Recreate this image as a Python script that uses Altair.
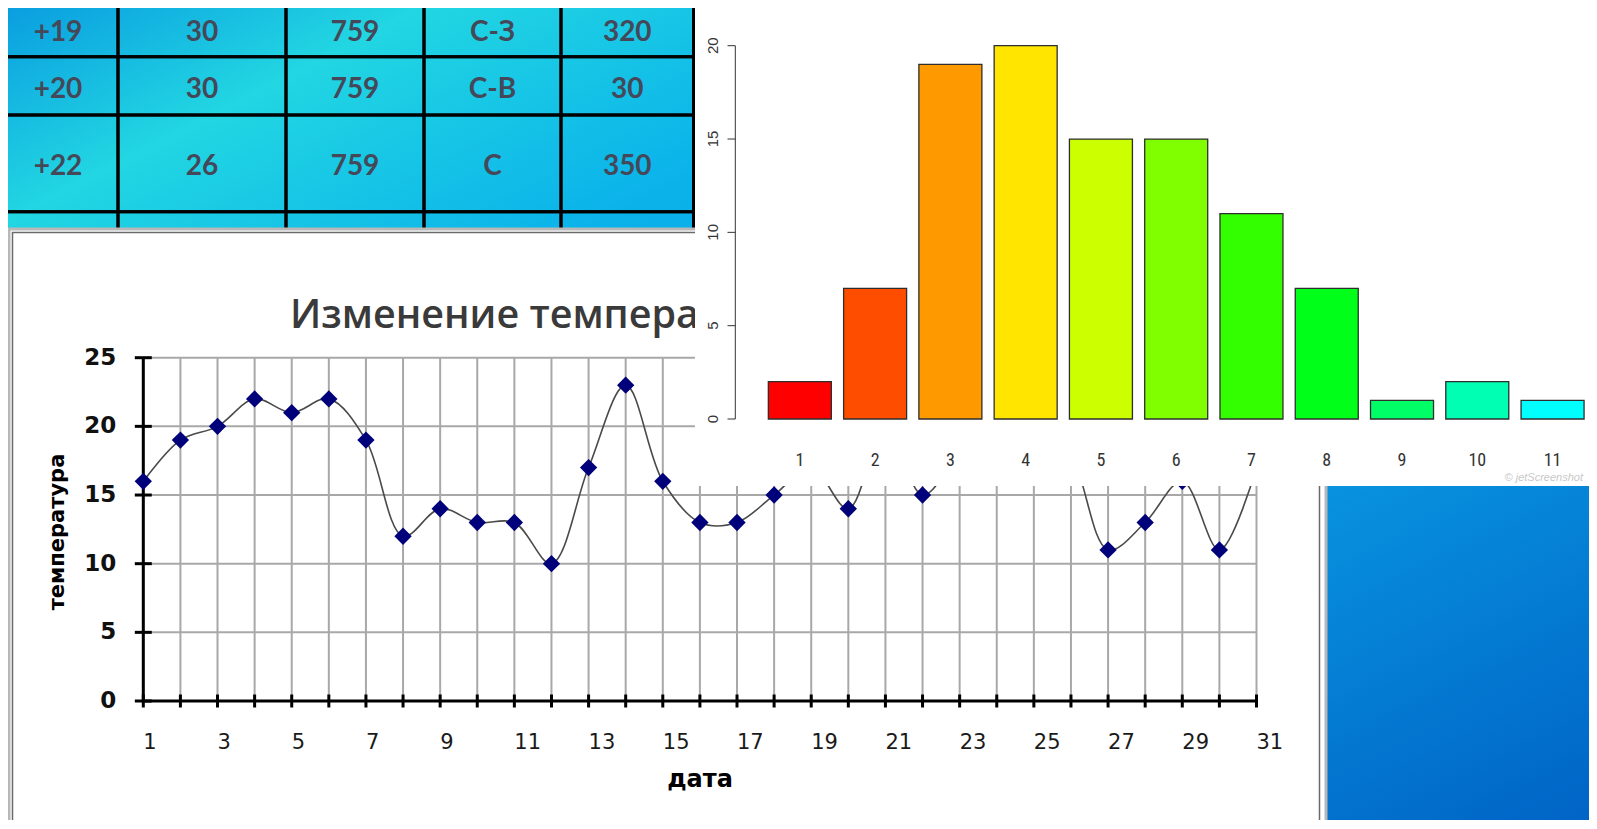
import altair as alt
import pandas as pd

# ------------------------------------------------------------------ data
TABLE_ROWS = [
    ["+19", "30", "759", "С-З", "320"],
    ["+20", "30", "759", "С-В", "30"],
    ["+22", "26", "759", "С", "350"],
]
N_TABLE_ROWS_DRAWN = 4          # 4th row is hidden behind the line chart
N_TABLE_COLS = 5

DAYS = list(range(1, 32))
TEMPS = [16, 19, 20, 22, 21, 22, 19, 12, 14, 13, 13, 10, 17, 23, 16, 13, 13, 15,
         17, 14, 20, 15, 18, 20, 21, 18, 11, 13, 16, 11, 17]
TEMP_TICKS = [0, 5, 10, 15, 20, 25]
DAY_LABELS = list(range(1, 32, 2))
LINE_TITLE = "Изменение температуры"
LINE_XTITLE = "дата"
LINE_YTITLE = "температура"

BAR_CATS = [str(i) for i in range(1, 12)]
BAR_VALUES = [2, 7, 19, 20, 15, 15, 11, 7, 1, 2, 1]
BAR_COLORS = ["#FF0000", "#FF4D00", "#FF9900", "#FFE500", "#CCFF00", "#80FF00",
              "#33FF00", "#00FF19", "#00FF66", "#00FFB2", "#00FFFF"]
BAR_TICKS = [0, 5, 10, 15, 20]
WATERMARK = "© jetScreenshot"

# ------------------------------------------------------------------ layout (page pixels)
OX, OY = 8, 8            # page margin
W, H = 1581, 812


def px(v):
    return v - OX


def py(v):
    return v - OY


ONE = pd.DataFrame({"k": [0]})

# background (slide gradient)
bg = alt.Chart(ONE).mark_rect(
    fill=alt.LinearGradient(
        gradient="linear", x1=0, y1=0, x2=1, y2=1,
        stops=[alt.GradientStop(offset=0.0, color="#0a9ee0"),
               alt.GradientStop(offset=0.13, color="#22d6e2"),
               alt.GradientStop(offset=0.32, color="#0ab2ea"),
               alt.GradientStop(offset=0.70, color="#0894e0"),
               alt.GradientStop(offset=1.0, color="#0064c6")])
).encode(x=alt.value(0), x2=alt.value(W), y=alt.value(0), y2=alt.value(H))

# ------------------------------------------------------------------ table
TX = alt.Scale(domain=[0, 1, 2, 3, 4, 5],
               range=[px(-2), px(118), px(286), px(424), px(561), px(693.5)],
               nice=False, zero=False)
TY = alt.Scale(domain=[0, 1, 2, 3, 4],
               range=[py(1.7), py(56.7), py(115), py(211.7), py(330)],
               nice=False, zero=False)

cells = pd.DataFrame([{"c0": c, "c1": c + 1, "r0": r, "r1": r + 1}
                      for r in range(N_TABLE_ROWS_DRAWN) for c in range(N_TABLE_COLS)])
table_grid = alt.Chart(cells).mark_rect(fillOpacity=0, stroke="#000000", strokeWidth=3).encode(
    x=alt.X("c0:Q", scale=TX, axis=None), x2="c1:Q",
    y=alt.Y("r0:Q", scale=TY, axis=None), y2="r1:Q")

ttext = pd.DataFrame([{"xc": c + 0.5, "yc": r + 0.5, "t": TABLE_ROWS[r][c]}
                      for r in range(len(TABLE_ROWS)) for c in range(N_TABLE_COLS)])
table_text = alt.Chart(ttext).mark_text(
    font="Lato", fontWeight="bold", fontSize=28, color="#454858",
    align="center", baseline="middle", dy=4
).encode(x=alt.X("xc:Q", scale=TX, axis=None), y=alt.Y("yc:Q", scale=TY, axis=None), text="t:N")

# ------------------------------------------------------------------ line chart panel
panel_outer = alt.Chart(ONE).mark_rect(fill="#ffffff", stroke="#b8b8b8", strokeWidth=3).encode(
    x=alt.value(px(9)), x2=alt.value(px(1326)), y=alt.value(py(229)), y2=alt.value(py(828)))
panel_inner = alt.Chart(ONE).mark_rect(fillOpacity=0, stroke="#6a6a6a", strokeWidth=1.5).encode(
    x=alt.value(px(12.5)), x2=alt.value(px(1319.5)), y=alt.value(py(232.5)), y2=alt.value(py(823)))

LX = alt.Scale(domain=[1, 31], range=[px(143.3), px(1256.5)], nice=False, zero=False)
LY = alt.Scale(domain=[0, 25], range=[py(701.0), py(357.7)], nice=False, zero=False)

title_df = pd.DataFrame({"t": [LINE_TITLE]})
line_title = alt.Chart(title_df).mark_text(
    font="Open Sans", fontWeight=600, fontSize=39.5, color="#3a3a3a",
    align="left", baseline="alphabetic"
).encode(x=alt.value(px(290)), y=alt.value(py(328)), text="t:N")

vgrid_df = pd.DataFrame({"day": DAYS, "lo": [0] * len(DAYS), "hi": [25] * len(DAYS)})
vgrid = alt.Chart(vgrid_df).mark_rule(color="#a8a8a8", strokeWidth=2).encode(
    x=alt.X("day:Q", scale=LX, axis=None),
    y=alt.Y("lo:Q", scale=LY, axis=None), y2="hi:Q")

hgrid_df = pd.DataFrame({"temp": TEMP_TICKS[1:], "lo": [1] * 5, "hi": [31] * 5})
hgrid = alt.Chart(hgrid_df).mark_rule(color="#a8a8a8", strokeWidth=2).encode(
    y=alt.Y("temp:Q", scale=LY, axis=None),
    x=alt.X("lo:Q", scale=LX, axis=None), x2="hi:Q")

xaxis_df = pd.DataFrame({"lo": [1], "hi": [31], "temp": [0]})
xaxis = alt.Chart(xaxis_df).mark_rule(color="#000000", strokeWidth=3).encode(
    x=alt.X("lo:Q", scale=LX, axis=None), x2="hi:Q",
    y=alt.Y("temp:Q", scale=LY, axis=None))
yaxis_df = pd.DataFrame({"day": [1], "lo": [0], "hi": [25]})
yaxis = alt.Chart(yaxis_df).mark_rule(color="#000000", strokeWidth=3).encode(
    x=alt.X("day:Q", scale=LX, axis=None),
    y=alt.Y("lo:Q", scale=LY, axis=None), y2="hi:Q")

xticks_df = pd.DataFrame({"day": DAYS, "temp": [0] * len(DAYS)})
xticks = alt.Chart(xticks_df).mark_tick(orient="vertical", size=13, thickness=3, color="#000000", opacity=1).encode(
    x=alt.X("day:Q", scale=LX, axis=None), y=alt.Y("temp:Q", scale=LY, axis=None))
yticks_df = pd.DataFrame({"temp": TEMP_TICKS, "day": [1] * len(TEMP_TICKS)})
yticks = alt.Chart(yticks_df).mark_tick(orient="horizontal", size=17, thickness=3, color="#000000", opacity=1).encode(
    x=alt.X("day:Q", scale=LX, axis=None), y=alt.Y("temp:Q", scale=LY, axis=None))

ylabels = alt.Chart(yticks_df).mark_text(
    font="DejaVu Sans", fontWeight="bold", fontSize=23, color="#111111",
    align="right", baseline="middle", dx=-27
).encode(x=alt.X("day:Q", scale=LX, axis=None), y=alt.Y("temp:Q", scale=LY, axis=None),
         text="temp:Q")

xlab_df = pd.DataFrame({"day": DAY_LABELS, "temp": [0] * len(DAY_LABELS)})
xlabels = alt.Chart(xlab_df).mark_text(
    font="DejaVu Sans", fontSize=21, color="#1a1a1a",
    align="left", baseline="middle", dx=0, dy=42
).encode(x=alt.X("day:Q", scale=LX, axis=None), y=alt.Y("temp:Q", scale=LY, axis=None),
         text="day:Q")

xt_df = pd.DataFrame({"t": [LINE_XTITLE]})
xtitle = alt.Chart(xt_df).mark_text(
    font="DejaVu Sans", fontWeight="bold", fontSize=24, color="#000000",
    align="center", baseline="middle"
).encode(x=alt.value(px(700)), y=alt.value(py(780)), text="t:N")
yt_df = pd.DataFrame({"t": [LINE_YTITLE]})
ytitle = alt.Chart(yt_df).mark_text(
    font="DejaVu Sans", fontWeight="bold", fontSize=21, color="#000000",
    align="center", baseline="middle", angle=270
).encode(x=alt.value(px(58)), y=alt.value(py(532)), text="t:N")

line_df = pd.DataFrame({"day": DAYS, "temp": TEMPS})
temp_line = alt.Chart(line_df).mark_line(
    interpolate="catmull-rom", color="#4a4a4a", strokeWidth=1.6
).encode(x=alt.X("day:Q", scale=LX, axis=None), y=alt.Y("temp:Q", scale=LY, axis=None))
temp_pts = alt.Chart(line_df).mark_point(
    shape="diamond", filled=True, size=300, color="#00007a", opacity=1
).encode(x=alt.X("day:Q", scale=LX, axis=None), y=alt.Y("temp:Q", scale=LY, axis=None))

# ------------------------------------------------------------------ bar chart panel
bar_panel = alt.Chart(ONE).mark_rect(fill="#ffffff").encode(
    x=alt.value(px(695)), x2=alt.value(W + 20), y=alt.value(py(4)), y2=alt.value(py(486)))

BX = alt.Scale(type="band", domain=BAR_CATS, range=[px(762.2), px(1590.2)],
               paddingInner=0.163, paddingOuter=0.0815)
BY = alt.Scale(domain=[0, 20], range=[py(419.0), py(45.7)], nice=False, zero=False)

bar_df = pd.DataFrame({"cat": BAR_CATS, "val": BAR_VALUES, "col": BAR_COLORS})
bars = alt.Chart(bar_df).mark_bar(stroke="#2e2e2e", strokeWidth=1.3).encode(
    x=alt.X("cat:O", scale=BX, axis=None, sort=BAR_CATS),
    y=alt.Y("val:Q", scale=BY, axis=None),
    fill=alt.Fill("col:N", scale=None))

bax_df = pd.DataFrame({"lo": [0], "hi": [20]})
bar_yaxis = alt.Chart(bax_df).mark_rule(color="#333333", strokeWidth=1).encode(
    x=alt.value(px(735.3)), y=alt.Y("lo:Q", scale=BY, axis=None), y2="hi:Q")
bt_df = pd.DataFrame({"v": BAR_TICKS})
bar_yticks = alt.Chart(bt_df).mark_rule(color="#333333", strokeWidth=1).encode(
    x=alt.value(px(727.5)), x2=alt.value(px(735.3)), y=alt.Y("v:Q", scale=BY, axis=None))
bar_ylabels = alt.Chart(bt_df).mark_text(
    font="Liberation Sans", fontSize=15, color="#333333",
    align="center", baseline="middle", angle=270
).encode(x=alt.value(px(713)), y=alt.Y("v:Q", scale=BY, axis=None), text="v:Q")
bar_xlabels = alt.Chart(bar_df).mark_text(
    font="Liberation Sans Narrow, Roboto Condensed, Liberation Sans", fontSize=18, color="#333333",
    align="center", baseline="middle"
).encode(x=alt.X("cat:O", scale=BX, axis=None, sort=BAR_CATS), y=alt.value(py(461)), text="cat:N")

wm_df = pd.DataFrame({"t": [WATERMARK]})
watermark = alt.Chart(wm_df).mark_text(
    font="Liberation Sans", fontSize=11, fontStyle="italic", color="#c8c8c8",
    align="right", baseline="middle"
).encode(x=alt.value(px(1583)), y=alt.value(py(478)), text="t:N")

chart = alt.layer(
    bg, table_grid, table_text,
    panel_outer, panel_inner, line_title,
    vgrid, hgrid, temp_line, xaxis, yaxis, xticks, yticks, temp_pts,
    ylabels, xlabels, xtitle, ytitle,
    bar_panel, bars, bar_yaxis, bar_yticks, bar_ylabels, bar_xlabels, watermark
).resolve_scale(
    x="independent", y="independent"
).properties(
    width=W, height=H, padding=0,
    autosize=alt.AutoSizeParams(type="none")
).configure_view(stroke=None)

chart.save("out.html", embed_options={"renderer": "svg", "actions": False})
